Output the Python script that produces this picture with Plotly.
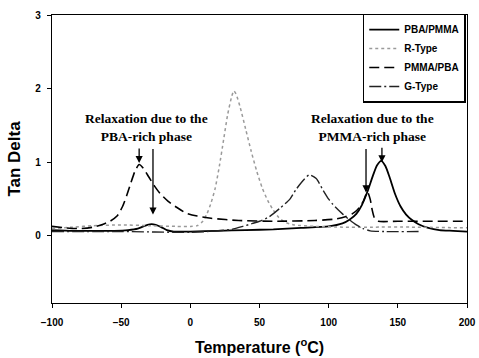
import plotly.graph_objects as go

# PBA/PMMA (solid)
pba_pmma_x = [-100, -85, -70, -55, -45, -38, -34, -31, -28, -25, -21, -17, -12, 0, 20, 40, 60, 80, 100, 110, 115, 120, 124, 128, 132, 135, 138, 141, 144, 148, 152, 156, 160, 165, 172, 180, 190, 200]
pba_pmma_y = [0.08, 0.07, 0.07, 0.07, 0.08, 0.1, 0.13, 0.15, 0.16, 0.15, 0.12, 0.08, 0.06, 0.06, 0.07, 0.08, 0.09, 0.11, 0.13, 0.17, 0.22, 0.3, 0.42, 0.6, 0.82, 0.96, 1.02, 0.95, 0.8, 0.57, 0.4, 0.29, 0.22, 0.16, 0.11, 0.08, 0.07, 0.06]

# R-Type (dotted)
r_type_x = [-100, -85, -70, -50, -30, -10, 0, 5, 9, 12, 15, 18, 21, 24, 27, 30, 31.5, 33, 36, 40, 44, 48, 52, 56, 60, 64, 68, 75, 90, 110, 130, 160, 200]
r_type_y = [0.1, 0.12, 0.14, 0.15, 0.14, 0.13, 0.13, 0.14, 0.2, 0.3, 0.45, 0.65, 0.95, 1.3, 1.65, 1.9, 1.97, 1.93, 1.75, 1.45, 1.15, 0.88, 0.65, 0.48, 0.35, 0.25, 0.19, 0.15, 0.13, 0.12, 0.12, 0.12, 0.11]

# PMMA/PBA (long dash)
pmma_pba_x = [-100, -90, -80, -70, -63, -58, -53, -49, -46, -43, -40, -37, -34, -30, -26, -22, -16, -10, -3, 5, 15, 35, 60, 90, 105, 112, 117, 121, 125, 128, 130, 131.5, 133, 136, 150, 200]
pmma_pba_y = [0.13, 0.11, 0.1, 0.12, 0.16, 0.2, 0.27, 0.4, 0.55, 0.72, 0.88, 0.97, 0.92, 0.8, 0.68, 0.58, 0.47, 0.39, 0.31, 0.27, 0.24, 0.21, 0.2, 0.21, 0.23, 0.26, 0.3, 0.36, 0.47, 0.6, 0.5, 0.35, 0.25, 0.2, 0.2, 0.2]

# G-Type (dash-dot)
g_type_x = [-100, -50, 0, 20, 30, 38, 45, 50, 57, 65, 72, 76, 80, 86, 91, 96, 100, 103, 110, 115, 120, 125, 130, 140, 165]
g_type_y = [0.06, 0.06, 0.05, 0.07, 0.09, 0.13, 0.17, 0.2, 0.26, 0.38, 0.5, 0.62, 0.72, 0.83, 0.78, 0.62, 0.5, 0.43, 0.3, 0.22, 0.15, 0.1, 0.07, 0.06, 0.06]

x_ticks = [-100, -50, 0, 50, 100, 150, 200]
y_ticks = [0, 1, 2, 3]

sans = "Liberation Sans, Arial, sans-serif"
serif = "Liberation Serif, Times New Roman, serif"

fig = go.Figure()
fig.add_trace(go.Scatter(x=pba_pmma_x, y=pba_pmma_y, mode="lines", name="PBA/PMMA",
                         line=dict(color="black", width=1.8, shape="spline", smoothing=0.6)))
fig.add_trace(go.Scatter(x=r_type_x, y=r_type_y, mode="lines", name="R-Type",
                         line=dict(color="#9a9a9a", width=1.5, dash="dot", shape="spline", smoothing=0.6)))
fig.add_trace(go.Scatter(x=pmma_pba_x, y=pmma_pba_y, mode="lines", name="PMMA/PBA",
                         line=dict(color="black", width=1.6, dash="10px,5px", shape="spline", smoothing=0.6)))
fig.add_trace(go.Scatter(x=g_type_x, y=g_type_y, mode="lines", name="G-Type",
                         line=dict(color="#222222", width=1.4, dash="12px,3px,2px,3px", shape="spline", smoothing=0.6)))

ann_font = dict(family=serif, size=13.5, color="black", weight="bold")
annotations = [
    dict(x=-31.5, y=1.47, text="Relaxation due to the<br>PBA-rich phase", showarrow=False, font=ann_font),
    dict(x=131.5, y=1.47, text="Relaxation due to the<br>PMMA-rich phase", showarrow=False, font=ann_font),
]
for ax_x, ax_y, length in [(-37, 0.99, 16), (-27, 0.29, 67), (127, 0.59, 45), (138.5, 1.0, 16)]:
    annotations.append(dict(x=ax_x, y=ax_y, ax=0, ay=-length, text="", showarrow=True,
                            arrowhead=2, arrowsize=1.1, arrowwidth=1.3, arrowcolor="black"))

fig.update_layout(
    width=479, height=358,
    margin=dict(l=52, r=12, t=15, b=55),
    paper_bgcolor="white", plot_bgcolor="white",
    showlegend=True,
    legend=dict(x=0.997, y=1.005, xanchor="right", yanchor="top",
                bgcolor="white", bordercolor="black", borderwidth=1.5,
                font=dict(family=sans, size=10, color="black", weight="bold"),
                itemwidth=30, tracegroupgap=0),
    annotations=annotations,
    xaxis=dict(range=[-100, 200], tickvals=x_ticks, showgrid=False, zeroline=False,
               showline=True, linecolor="black", linewidth=1.2, mirror=True, automargin=False,
               ticks="outside", ticklen=4, tickcolor="black", ticklabelstandoff=6,
               tickfont=dict(family=sans, size=10, color="black", weight="bold"),
               title=dict(text="Temperature (<sup>o</sup>C)", standoff=14,
                          font=dict(family=sans, size=16, color="black", weight="bold"))),
    yaxis=dict(range=[-0.91, 3], tickvals=y_ticks, showgrid=False, zeroline=False,
               showline=True, linecolor="black", linewidth=1.2, mirror=True, automargin=False,
               ticks="outside", ticklen=4, tickcolor="black", ticklabelstandoff=4,
               tickfont=dict(family=sans, size=10, color="black", weight="bold"),
               title=dict(text="Tan Delta", standoff=10,
                          font=dict(family=sans, size=17, color="black", weight="bold"))),
)

fig.write_html("out.html")
